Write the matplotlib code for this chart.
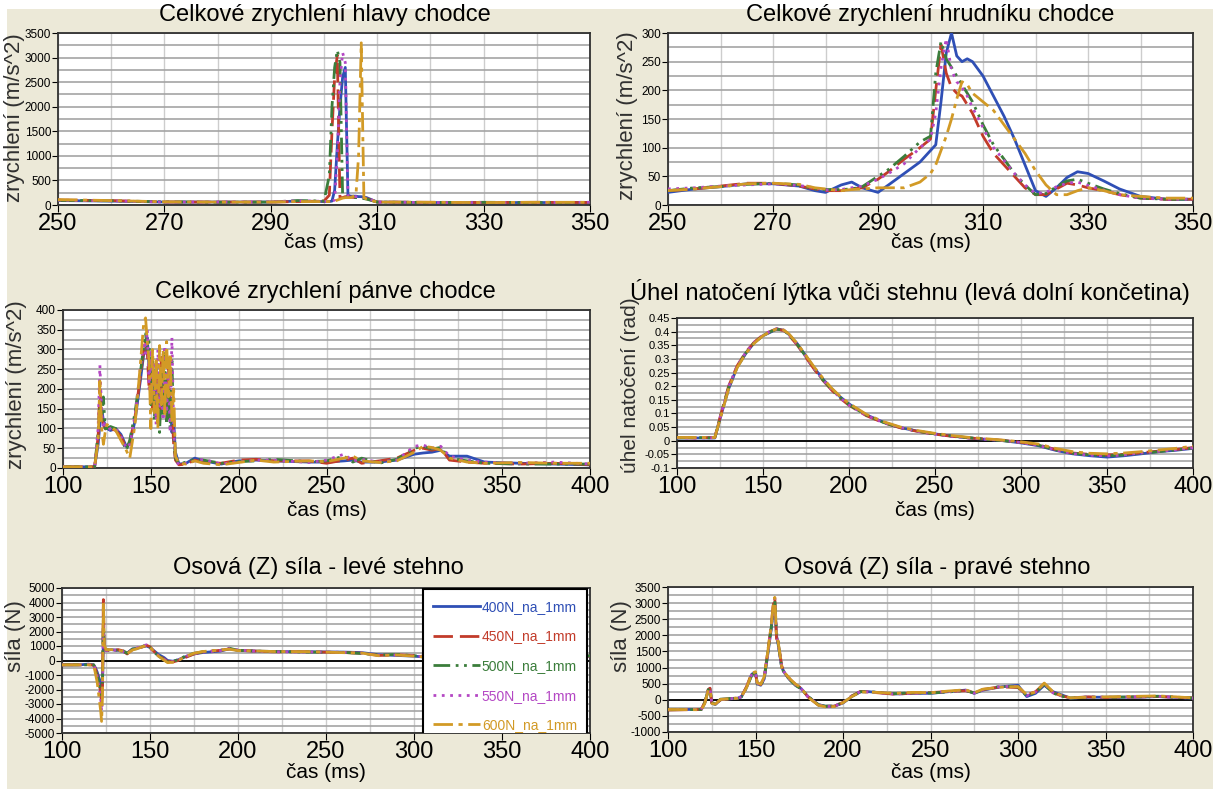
import matplotlib
matplotlib.use('Agg')
import matplotlib.pyplot as plt
from matplotlib.ticker import FixedLocator, MultipleLocator, FuncFormatter
from matplotlib.patches import Rectangle

plt.rcParams['font.family'] = ['Liberation Sans Narrow', 'Liberation Sans', 'DejaVu Sans']
plt.rcParams['axes.unicode_minus'] = False

W, H = 1213, 789

series_names = ['400N_na_1mm', '450N_na_1mm', '500N_na_1mm', '550N_na_1mm', '600N_na_1mm']
series_colors = ['#2f4fb5', '#c23b2a', '#3b7d3b', '#b447c4', '#d29a26']
series_dashes = [None, (7, 2.5), (6, 2, 1, 2, 1, 2), (1, 2), (7, 2, 1.5, 2)]

# head acceleration
t_head = [250, 260, 270, 280, 290, 295, 300, 301, 301.5, 302, 302.5, 303, 303.5, 304, 304.5,
          305, 306, 306.5, 307, 307.5, 308, 310, 320, 330, 340, 350]
head_400 = [90, 80, 60, 60, 60, 80, 70, 70, 80, 300, 1200, 2000, 2600, 2800, 200, 180, 180, 170, 170, 160, 150, 60, 50, 50, 50, 50]
head_450 = [100, 90, 60, 60, 60, 70, 80, 200, 1500, 2600, 3050, 150, 150, 170, 170, 160, 150, 150, 140, 140, 130, 60, 55, 50, 55, 50]
head_500 = [95, 85, 65, 55, 60, 90, 80, 600, 2000, 2800, 3150, 2900, 200, 180, 170, 160, 150, 150, 140, 130, 120, 60, 50, 55, 50, 50]
head_550 = [100, 85, 60, 60, 65, 85, 75, 70, 80, 100, 1000, 2500, 3100, 2900, 180, 180, 170, 160, 160, 150, 140, 60, 50, 50, 50, 55]
head_600 = [110, 90, 65, 60, 60, 70, 70, 70, 75, 80, 100, 120, 140, 150, 150, 150, 200, 1000, 3300, 150, 120, 60, 55, 50, 55, 55]

# chest acceleration
t_chest = [250, 255, 260, 265, 270, 275, 278, 280, 283, 285, 287, 290, 292, 295, 298, 300, 301, 302, 303, 304,
           305, 306, 307, 308, 310, 312, 314, 316, 318, 320, 322, 324, 326, 328, 330, 333, 336, 340, 345, 350]
chest_400 = [22, 28, 32, 37, 37, 33, 25, 22, 35, 40, 30, 22, 35, 55, 75, 95, 105, 180, 265, 300,
             260, 250, 255, 250, 225, 190, 155, 115, 70, 25, 15, 30, 48, 58, 55, 42, 28, 15, 10, 10]
chest_450 = [25, 28, 33, 38, 38, 33, 28, 25, 25, 28, 30, 45, 58, 80, 100, 115, 200, 280, 230, 205,
             195, 190, 175, 160, 120, 90, 70, 50, 30, 18, 18, 28, 38, 35, 30, 25, 18, 12, 10, 10]
chest_500 = [25, 30, 32, 36, 38, 35, 28, 27, 27, 28, 32, 50, 62, 85, 110, 120, 230, 285, 255, 240,
             225, 210, 195, 180, 140, 105, 80, 55, 35, 18, 20, 32, 42, 45, 38, 28, 20, 12, 10, 10]
chest_550 = [28, 30, 33, 35, 37, 34, 30, 26, 27, 30, 33, 45, 55, 72, 100, 115, 160, 240, 290, 235,
             215, 205, 190, 170, 135, 100, 78, 55, 35, 20, 22, 32, 38, 40, 34, 26, 18, 12, 10, 10]
chest_600 = [25, 28, 32, 37, 38, 36, 30, 28, 25, 27, 28, 30, 30, 30, 40, 55, 70, 95, 120, 150,
             185, 215, 210, 195, 180, 165, 140, 115, 90, 60, 35, 18, 18, 25, 30, 25, 18, 15, 12, 12]

# pelvis acceleration
t_pelvis = [100, 118, 120, 121, 122, 123, 124, 125, 127, 130, 133, 136, 138, 141, 144, 146, 147, 148, 149, 150,
            151, 152, 153, 154, 155, 156, 157, 158, 159, 160, 161, 162, 163, 164, 166, 170, 175, 180, 190, 200,
            210, 220, 240, 250, 260, 265, 270, 280, 290, 300, 305, 310, 315, 320, 330, 340, 360, 380, 400]
pelvis_400 = [3, 3, 60, 110, 150, 120, 110, 100, 95, 100, 85, 55, 60, 120, 220, 290, 300, 330, 250, 180,
              240, 150, 220, 120, 200, 140, 250, 170, 220, 130, 180, 90, 120, 40, 10, 12, 25, 18, 10, 18,
              20, 18, 15, 15, 18, 20, 15, 15, 20, 35, 38, 40, 45, 30, 30, 15, 12, 10, 8]
pelvis_450 = [3, 3, 80, 200, 130, 110, 100, 95, 100, 95, 80, 50, 65, 130, 230, 300, 320, 290, 200, 260,
              150, 250, 130, 230, 110, 280, 150, 220, 120, 260, 130, 150, 60, 20, 8, 10, 20, 15, 12, 20,
              22, 18, 18, 12, 20, 25, 12, 18, 25, 45, 50, 45, 50, 20, 15, 12, 10, 12, 8]
pelvis_500 = [3, 3, 90, 150, 120, 180, 100, 100, 105, 100, 75, 45, 70, 140, 240, 310, 340, 300, 320, 160,
              270, 120, 250, 170, 90, 240, 130, 290, 110, 200, 100, 280, 80, 25, 10, 15, 22, 20, 12, 16,
              18, 22, 16, 18, 30, 15, 25, 12, 22, 50, 55, 48, 52, 25, 18, 12, 10, 10, 10]
pelvis_550 = [3, 3, 100, 260, 140, 100, 120, 95, 100, 100, 80, 50, 60, 130, 250, 320, 290, 350, 200, 300,
              180, 270, 110, 300, 150, 200, 120, 310, 140, 240, 90, 330, 100, 20, 8, 12, 18, 22, 10, 15,
              20, 20, 14, 20, 35, 18, 22, 15, 20, 55, 58, 50, 55, 30, 20, 15, 12, 15, 10]
pelvis_600 = [3, 3, 70, 220, 100, 60, 90, 110, 105, 95, 70, 45, 25, 110, 260, 370, 380, 320, 270, 100,
              300, 140, 280, 100, 310, 160, 300, 130, 320, 180, 290, 120, 200, 30, 12, 10, 18, 12, 8, 14,
              20, 15, 18, 16, 25, 30, 18, 14, 18, 40, 55, 52, 45, 25, 15, 12, 14, 12, 12]

# knee angle
t_angle = [100, 110, 122, 125, 130, 135, 140, 145, 150, 155, 158, 162, 165, 170, 175, 180, 185, 190, 195, 200,
           210, 220, 230, 240, 250, 260, 270, 280, 290, 300, 310, 320, 330, 340, 350, 360, 370, 380, 390, 400]
angle_400 = [0.01, 0.01, 0.01, 0.08, 0.19, 0.27, 0.32, 0.36, 0.385, 0.40, 0.41, 0.405, 0.39, 0.355, 0.31, 0.265, 0.225, 0.19, 0.16, 0.135,
             0.095, 0.068, 0.048, 0.035, 0.025, 0.017, 0.01, 0.005, 0.0, -0.008, -0.018, -0.035, -0.048, -0.055, -0.06, -0.055, -0.048, -0.04, -0.035, -0.028]
angle_450 = [0.012, 0.01, 0.012, 0.085, 0.2, 0.275, 0.325, 0.362, 0.388, 0.403, 0.41, 0.404, 0.388, 0.35, 0.305, 0.26, 0.22, 0.185, 0.155, 0.13,
             0.092, 0.066, 0.047, 0.034, 0.024, 0.016, 0.01, 0.006, 0.001, -0.006, -0.015, -0.032, -0.045, -0.05, -0.052, -0.05, -0.044, -0.038, -0.032, -0.025]
angle_500 = [0.01, 0.012, 0.01, 0.082, 0.195, 0.272, 0.322, 0.36, 0.386, 0.402, 0.409, 0.405, 0.389, 0.352, 0.308, 0.262, 0.222, 0.188, 0.158, 0.132,
             0.094, 0.067, 0.047, 0.035, 0.025, 0.017, 0.011, 0.005, 0.0, -0.007, -0.016, -0.033, -0.046, -0.052, -0.055, -0.052, -0.046, -0.04, -0.034, -0.027]
angle_550 = [0.011, 0.01, 0.011, 0.083, 0.198, 0.274, 0.324, 0.361, 0.387, 0.404, 0.411, 0.406, 0.39, 0.353, 0.307, 0.263, 0.223, 0.187, 0.157, 0.131,
             0.093, 0.067, 0.048, 0.034, 0.024, 0.016, 0.01, 0.005, 0.001, -0.007, -0.017, -0.034, -0.047, -0.053, -0.056, -0.052, -0.045, -0.039, -0.033, -0.026]
angle_600 = [0.012, 0.012, 0.012, 0.078, 0.19, 0.268, 0.32, 0.358, 0.385, 0.402, 0.41, 0.406, 0.392, 0.356, 0.312, 0.268, 0.228, 0.192, 0.162, 0.137,
             0.097, 0.07, 0.05, 0.037, 0.027, 0.019, 0.012, 0.007, 0.002, -0.004, -0.012, -0.028, -0.04, -0.046, -0.048, -0.045, -0.04, -0.034, -0.028, -0.02]

# left thigh axial force
t_left = [100, 110, 115, 118, 119, 120, 121, 122, 122.5, 123, 123.5, 124, 125, 128, 132, 135, 137, 140, 143, 146,
          148, 150, 152, 155, 158, 160, 163, 166, 170, 175, 180, 190, 195, 200, 210, 220, 240, 260, 270, 280,
          290, 300, 305, 310, 320, 340, 360, 380, 400]
left_400 = [-300, -300, -250, -300, -500, -800, -1200, -1500, -2000, -1800, 1500, 800, 700, 750, 700, 600, 500, 800, 850, 950,
            1000, 900, 700, 400, 200, 0, -50, 50, 250, 450, 550, 650, 800, 700, 650, 620, 600, 580, 550, 400,
            350, 300, 250, 100, 150, 200, 250, 300, 300]
left_450 = [-300, -300, -300, -320, -600, -1000, -1500, -2200, -3000, -2000, 4200, 900, 700, 700, 750, 650, 450, 750, 850, 950,
            1050, 950, 650, 350, 100, -50, -100, 0, 200, 450, 600, 700, 800, 700, 650, 600, 600, 550, 500, 350,
            400, 350, 300, 150, 200, 250, 250, 300, 300]
left_500 = [-300, -300, -300, -300, -700, -1100, -1600, -2000, -2500, -1500, 3000, 1000, 750, 720, 700, 650, 500, 780, 820, 980,
            1100, 900, 600, 300, 50, -100, -50, 50, 300, 500, 600, 700, 850, 700, 650, 620, 580, 560, 480, 380,
            420, 330, 280, 120, 180, 220, 260, 280, 320]
left_550 = [-300, -300, -280, -300, -650, -1200, -1800, -2600, -3500, -2200, 2500, 900, 700, 700, 720, 600, 480, 760, 880, 1000,
            1080, 850, 620, 320, 80, -120, -80, 20, 280, 480, 580, 680, 820, 720, 640, 600, 590, 560, 520, 360,
            380, 320, 260, 140, 170, 230, 240, 290, 300]
left_600 = [-300, -300, -300, -300, -900, -1500, -2500, -3500, -4200, -2500, 4000, 1100, 750, 750, 700, 620, 470, 720, 830, 960,
            1020, 920, 640, 280, 20, -150, -120, 0, 260, 500, 620, 720, 780, 680, 660, 620, 610, 540, 520, 330,
            380, 300, 250, 100, 160, 210, 240, 270, 290]

# right thigh axial force
t_right = [100, 119, 121, 123, 124, 125, 127, 130, 140, 142, 145, 148, 150, 151, 153, 155, 157, 159, 160, 161,
           162, 163, 165, 167, 170, 173, 176, 180, 186, 190, 195, 200, 205, 210, 215, 230, 240, 250, 260, 270,
           275, 280, 290, 300, 305, 310, 315, 320, 325, 330, 340, 350, 370, 380, 400]
right_400 = [-300, -300, -100, 300, 350, -100, -150, 0, 50, 100, 400, 800, 850, 500, 450, 650, 1400, 2200, 2700, 3000,
             2000, 1700, 1000, 800, 600, 450, 350, 100, -150, -200, -200, -100, 100, 250, 250, 180, 200, 200, 250, 300,
             200, 300, 400, 450, 100, 200, 450, 250, 150, 50, 80, 80, 80, 100, 50]
right_450 = [-320, -300, -80, 320, 360, -100, -150, 0, 60, 100, 420, 850, 800, 520, 470, 700, 1500, 2300, 2900, 3200,
             1900, 1800, 1050, 800, 620, 470, 360, 90, -170, -200, -200, -80, 120, 260, 240, 170, 210, 220, 260, 280,
             220, 320, 400, 380, 150, 250, 500, 220, 120, 60, 90, 70, 90, 100, 60]
right_500 = [-310, -300, -90, 310, 330, -80, -130, 20, 50, 90, 380, 780, 820, 480, 440, 680, 1450, 2250, 2750, 3100,
             2100, 1750, 980, 780, 600, 440, 340, 110, -160, -200, -190, -90, 110, 250, 250, 190, 220, 210, 240, 290,
             210, 310, 420, 400, 120, 230, 480, 210, 110, 55, 85, 75, 95, 110, 55]
right_550 = [-300, -300, -110, 330, 340, -90, -140, 10, 55, 95, 410, 820, 830, 510, 460, 690, 1420, 2280, 2800, 3150,
             2050, 1720, 1020, 790, 610, 460, 350, 95, -160, -210, -200, -85, 115, 255, 245, 175, 205, 215, 255, 295,
             205, 305, 410, 420, 130, 240, 510, 215, 115, 50, 90, 80, 95, 105, 50]
right_600 = [-300, -310, -120, 300, 320, -110, -140, 10, 50, 100, 390, 830, 870, 530, 480, 720, 1480, 2320, 2850, 3180,
             2000, 1780, 1000, 820, 630, 480, 370, 80, -170, -220, -210, -90, 100, 240, 240, 200, 230, 220, 270, 310,
             220, 330, 390, 410, 160, 240, 520, 250, 130, 60, 80, 90, 110, 120, 60]

xticks_short = [250, 270, 290, 310, 330, 350]
xticks_long = [100, 150, 200, 250, 300, 350, 400]
yticks_head = [0, 500, 1000, 1500, 2000, 2500, 3000, 3500]
yticks_chest = [0, 50, 100, 150, 200, 250, 300]
yticks_pelvis = [0, 50, 100, 150, 200, 250, 300, 350, 400]
yticks_angle = [-0.1, -0.05, 0, 0.05, 0.1, 0.15, 0.2, 0.25, 0.3, 0.35, 0.4, 0.45]
yticks_left = [-5000, -4000, -3000, -2000, -1000, 0, 1000, 2000, 3000, 4000, 5000]
yticks_right = [-1000, -500, 0, 500, 1000, 1500, 2000, 2500, 3000, 3500]

fig = plt.figure(figsize=(W / 100, H / 100), dpi=100, facecolor='white')
fig.add_artist(Rectangle((7 / W, 0), (W - 7) / W, (H - 9) / H, transform=fig.transFigure,
                         facecolor='#ece9d8', edgecolor='none', zorder=-10))


def fx(x):
    return x / W


def fy(y):
    return 1 - y / H


def make_panel(box, t, ys, xlim, xticks, xgrid, ylim, yticks, ygrid, title, title_xy,
               ylabel, ylabel_xy, xlabel_y, zero=False, ytick_size=8.5, ylabel_size=16):
    l, tp, r, b = box
    ax = fig.add_axes([fx(l), fy(b), (r - l) / W, (b - tp) / H])
    ax.set_facecolor('white')
    for y, c, d, n in zip(ys, series_colors, series_dashes, series_names):
        ln, = ax.plot(t, y, color=c, lw=2, label=n, zorder=3)
        if d:
            ln.set_dashes(d)
    if zero:
        ax.axhline(0, color='black', lw=1.3, zorder=2)
    ax.set_xlim(xlim)
    ax.set_ylim(ylim)
    ax.xaxis.set_major_locator(FixedLocator(xticks))
    ax.xaxis.set_minor_locator(MultipleLocator(xgrid))
    ax.yaxis.set_major_locator(FixedLocator(yticks))
    ax.yaxis.set_minor_locator(MultipleLocator(ygrid))
    ax.yaxis.set_major_formatter(FuncFormatter(lambda v, p: f'{round(v, 3):g}'))
    ax.grid(axis='y', which='both', color='#a4a4a4', lw=1.2)
    ax.grid(axis='x', which='both', color='#cdcdcd', lw=1)
    ax.set_axisbelow(True)
    ax.tick_params(axis='y', which='major', labelsize=ytick_size, length=4, pad=1)
    ax.tick_params(axis='x', which='major', labelsize=17, length=5, pad=1)
    ax.tick_params(which='minor', length=0)
    for s in ax.spines.values():
        s.set_color('#303030')
        s.set_linewidth(1.3)
    fig.text(fx(title_xy[0]), fy(title_xy[1]), title, ha='center', va='center', fontsize=17)
    fig.text(fx(ylabel_xy[0]), fy(ylabel_xy[1]), ylabel, ha='center', va='center',
             rotation=90, fontsize=ylabel_size, color='#303030')
    fig.text(fx((l + r) / 2), fy(xlabel_y), 'čas (ms)', ha='center', va='center', fontsize=15)
    return ax


make_panel((58, 33, 590, 205), t_head, [head_400, head_450, head_500, head_550, head_600],
           (250, 350), xticks_short, 10, (0, 3500), yticks_head, 250,
           'Celkové zrychlení hlavy chodce', (325, 15), 'zrychlení (m/s^2)', (15, 118), 242)

make_panel((668, 33, 1193, 205), t_chest, [chest_400, chest_450, chest_500, chest_550, chest_600],
           (250, 350), xticks_short, 10, (0, 300), yticks_chest, 25,
           'Celkové zrychlení hrudníku chodce', (930, 15), 'zrychlení (m/s^2)', (628, 116), 242)

make_panel((63, 310, 590, 468), t_pelvis, [pelvis_400, pelvis_450, pelvis_500, pelvis_550, pelvis_600],
           (100, 400), xticks_long, 25, (0, 400), yticks_pelvis, 25,
           'Celkové zrychlení pánve chodce', (325, 292), 'zrychlení (m/s^2)', (17, 385), 510)

make_panel((677, 318, 1193, 468), t_angle, [angle_400, angle_450, angle_500, angle_550, angle_600],
           (100, 400), xticks_long, 25, (-0.1, 0.45), yticks_angle, 0.025,
           'Úhel natočení lýtka vůči stehnu (levá dolní končetina)', (910, 292),
           'úhel natočení (rad)', (630, 385), 510, zero=True, ytick_size=8, ylabel_size=15)

ax5 = make_panel((62, 588, 590, 733), t_left, [left_400, left_450, left_500, left_550, left_600],
                 (100, 400), xticks_long, 25, (-5000, 5000), yticks_left, 500,
                 'Osová (Z) síla - levé stehno', (318, 568), 'síla (N)', (15, 636), 773, zero=True)

make_panel((668, 587, 1193, 732), t_right, [right_400, right_450, right_500, right_550, right_600],
           (100, 400), xticks_long, 25, (-1000, 3500), yticks_right, 250,
           'Osová (Z) síla - pravé stehno', (937, 568), 'síla (N)', (621, 636), 773, zero=True)

leg = ax5.legend(loc='upper right', bbox_to_anchor=(0.995, 0.99), borderaxespad=0, fontsize=10,
                 handlelength=3.4, handletextpad=0.1, labelspacing=1.12, borderpad=0.75,
                 fancybox=False, framealpha=1, edgecolor='black', labelcolor='linecolor')
leg.get_frame().set_linewidth(1.5)
leg.set_zorder(10)
for a in leg.findobj():
    a.set_clip_path(ax5.patch)

fig.savefig('out.png', dpi=100, facecolor=fig.get_facecolor())
